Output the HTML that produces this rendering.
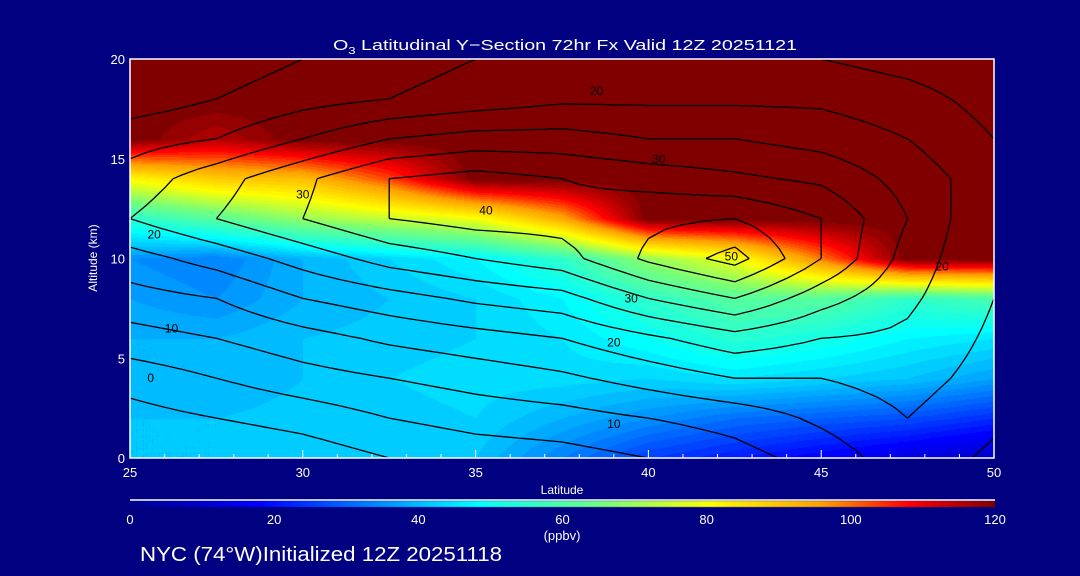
<!DOCTYPE html>
<html><head><meta charset="utf-8">
<style>
html,body{margin:0;padding:0;background:#000080;}
#wrap{position:relative;width:1080px;height:576px;background:#000080;overflow:hidden;font-family:"Liberation Sans",sans-serif;}
canvas{position:absolute;left:0;top:0;}
svg{position:absolute;left:0;top:0;}
</style></head>
<body>
<div id="wrap">
<canvas id="fill" width="1080" height="576"></canvas>
<svg id="ov" width="1080" height="576" xmlns="http://www.w3.org/2000/svg">
  <text x="333" y="50" fill="#fff" font-size="15" textLength="464" lengthAdjust="spacingAndGlyphs">O<tspan font-size="10" dy="4">3</tspan><tspan dy="-4"> Latitudinal Y−Section 72hr  Fx Valid 12Z 20251121</tspan></text>
  <text x="97" y="258" fill="#fff" font-size="12" text-anchor="middle" transform="rotate(-90 97 258)">Altitude (km)</text>
  <text x="562" y="494" fill="#fff" font-size="12" text-anchor="middle">Latitude</text>
  <text x="562" y="540" fill="#fff" font-size="13" text-anchor="middle">(ppbv)</text>
  <text x="140" y="561" fill="#fff" font-size="20" textLength="362" lengthAdjust="spacingAndGlyphs">NYC (74°W)Initialized 12Z 20251118</text>
  <g id="contours"></g>
  <g id="axes"></g>
</svg>
</div>
<script>
// ---- data ----
const lats = [25,27.5,30,32.5,35,37.5,40,42.5,45,47.5,50];
const alts = [0,2,4,6,8,10,12,14,16,18,20];
// ozone (ppbv), rows by altitude
const ozone = [
 [42,42,42,42,42,34,26,22,18,14,10],
 [42,42,43,43,44,40,36,32,30,28,24],
 [40,40,42,44,45,45,44,46,44,42,38],
 [40,40,42,43,44,46,50,55,52,48,46],
 [38,36,40,42,44,48,56,62,62,56,60],
 [36,34,40,44,48,56,70,80,100,122,122],
 [55,62,70,75,80,95,122,122,122,122,122],
 [82,90,92,104,122,122,122,122,122,122,122],
 [122,116,122,122,122,122,122,122,122,122,122],
 [122,122,122,122,122,122,122,122,122,122,122],
 [122,122,122,122,122,122,122,122,122,122,122]
];
// contour field, rows by altitude
const wind = [
 [-5,-5,-3,0,2,3,5,8,12,18,14],
 [-2,0,2,5,7,8,10,12,16,20,16],
 [2,5,8,10,12,14,17,20,20,22,18],
 [8,10,13,16,18,20,24,28,25,24,19],
 [13,15,20,23,26,28,35,40,32,26,20],
 [18,22,27,32,35,38,46,52,40,28,20],
 [25,30,35,40,42,42,44,45,40,30,20],
 [22,28,34,40,42,40,38,36,34,28,22],
 [18,20,25,30,32,32,30,30,28,25,20],
 [12,15,18,20,22,24,24,24,24,22,18],
 [10,12,15,18,20,20,20,20,20,18,16]
];
const levels = [-5,0,5,10,15,20,25,30,35,40,45,50];
const contourLabels = [[25.6,4.0,"0"],[26.2,6.5,"10"],[25.7,11.2,"20"],[30.0,13.2,"30"],[35.3,12.4,"40"],[42.4,10.1,"50"],[39.5,8.0,"30"],[39.0,5.8,"20"],[39.0,1.7,"10"],[40.3,15.0,"30"],[38.5,18.4,"20"],[48.5,9.6,"20"]];
const xTicks = [25,30,35,40,45,50];
const yTicks = [0,5,10,15,20];
const cbTicks = [0,20,40,60,80,100,120];

// ---- axes ----
const X0=130,X1=994,Y0=59,Y1=458;
const xs = v => X0+(v-25)/25*(X1-X0);
const ys = v => Y1-(v/20)*(Y1-Y0);
const cbx = v => 130+v/120*(995-130);

function cmap(v){
  const st=[[0,[0,0,140]],[0.15,[0,0,255]],[0.4,[0,255,255]],[0.55,[120,255,120]],[0.67,[255,255,0]],[0.8,[255,160,0]],[0.9,[255,0,0]],[1,[128,0,0]]];
  let t=Math.max(0,Math.min(1,v/120));
  for(let i=1;i<st.length;i++){ if(t<=st[i][0]){const a=st[i-1],b=st[i];const f=(t-a[0])/(b[0]-a[0]);return a[1].map((c,k)=>Math.round(c+(b[1][k]-c)*f));}}
  return st[st.length-1][1];
}
function interp(grid,lat,alt){
  let fi=(lat-25)/2.5, fj=alt/2;
  let i=Math.min(9,Math.max(0,Math.floor(fi))), j=Math.min(9,Math.max(0,Math.floor(fj)));
  let u=fi-i,w=fj-j;
  return grid[j][i]*(1-u)*(1-w)+grid[j][i+1]*u*(1-w)+grid[j+1][i]*(1-u)*w+grid[j+1][i+1]*u*w;
}
// fill
const ctx=document.getElementById('fill').getContext('2d');
const W=X1-X0,H=Y1-Y0;
const img=ctx.createImageData(W,H);
for(let py=0;py<H;py++){for(let px=0;px<W;px++){
  const lat=25+px/W*25, alt=20-py/H*20;
  let v=interp(ozone,lat,alt); v=Math.floor(v/2)*2;
  const c=cmap(v); const k=(py*W+px)*4;
  img.data[k]=c[0];img.data[k+1]=c[1];img.data[k+2]=c[2];img.data[k+3]=255;
}}
ctx.putImageData(img,X0,Y0);
// colorbar
const cb=ctx.createImageData(865,6);
for(let px=0;px<865;px++){const c=cmap(px/865*120);for(let py=0;py<6;py++){const k=(py*865+px)*4;cb.data[k]=c[0];cb.data[k+1]=c[1];cb.data[k+2]=c[2];cb.data[k+3]=255;}}
ctx.putImageData(cb,130,501);

const NS='http://www.w3.org/2000/svg';
const cg=document.getElementById('contours');
// marching squares on a refined grid
const fine=[];const FL=[],FA=[];
for(let a=0;a<=40;a++)FA.push(a*0.5);
for(let l=0;l<=50;l++)FL.push(25+l*0.5);
for(let a=0;a<FA.length;a++){fine.push(FL.map(l=>interp(wind,l,FA[a])));}
levels.forEach(lev=>{
  let d='';
  for(let a=0;a<FA.length-1;a++)for(let l=0;l<FL.length-1;l++){
    const p=[[FL[l],FA[a],fine[a][l]],[FL[l+1],FA[a],fine[a][l+1]],[FL[l+1],FA[a+1],fine[a+1][l+1]],[FL[l],FA[a+1],fine[a+1][l]]];
    const pts=[];
    for(let e=0;e<4;e++){const A=p[e],B=p[(e+1)%4];
      if((A[2]<lev)!==(B[2]<lev)){const f=(lev-A[2])/(B[2]-A[2]);pts.push([xs(A[0]+(B[0]-A[0])*f),ys(A[1]+(B[1]-A[1])*f)]);}}
    for(let q=0;q+1<pts.length;q+=2)d+=`M${pts[q][0].toFixed(1)},${pts[q][1].toFixed(1)}L${pts[q+1][0].toFixed(1)},${pts[q+1][1].toFixed(1)}`;
  }
  const path=document.createElementNS(NS,'path');
  path.setAttribute('d',d);path.setAttribute('stroke','#000');path.setAttribute('stroke-width','1.3');path.setAttribute('fill','none');
  if(lev<0)path.setAttribute('stroke-dasharray','1,3');
  
  
  cg.appendChild(path);
});
contourLabels.forEach(c=>{
  const t=document.createElementNS(NS,'text');
  t.setAttribute('x',xs(c[0]));t.setAttribute('y',ys(c[1])+4);t.setAttribute('font-size','12');t.setAttribute('text-anchor','middle');t.setAttribute('fill','#000');
  t.textContent=c[2];
  
  
  cg.appendChild(t);
});
// axes
const ag=document.getElementById('axes');
function add(tag,attrs,txt){const e=document.createElementNS(NS,tag);for(const k in attrs)e.setAttribute(k,attrs[k]);if(txt!==undefined)e.textContent=txt;ag.appendChild(e);return e;}
const frame=add('rect',{x:X0,y:Y0,width:X1-X0,height:Y1-Y0,fill:'none',stroke:'#fff','stroke-width':1.5});


for(let v=25;v<=50;v++){const tk=add('line',{x1:xs(v),x2:xs(v),y1:Y1,y2:Y1-(v%5===0?8:4),stroke:'#fff'});
  
  }
xTicks.forEach(v=>{const t=add('text',{x:xs(v),y:Y1+19,fill:'#fff','font-size':13,'text-anchor':'middle'},String(v));
  
  });
yTicks.forEach(v=>{const t=add('text',{x:X0-5,y:ys(v)+5,fill:'#fff','font-size':13,'text-anchor':'end'},String(v));
  
  });
const cbl=add('line',{x1:130,x2:995,y1:500,y2:500,stroke:'#fff','stroke-width':1.5});


cbTicks.forEach(v=>{const t=add('text',{x:cbx(v),y:524,fill:'#fff','font-size':13,'text-anchor':'middle'},String(v));
  
  });
</script>
</body></html>
